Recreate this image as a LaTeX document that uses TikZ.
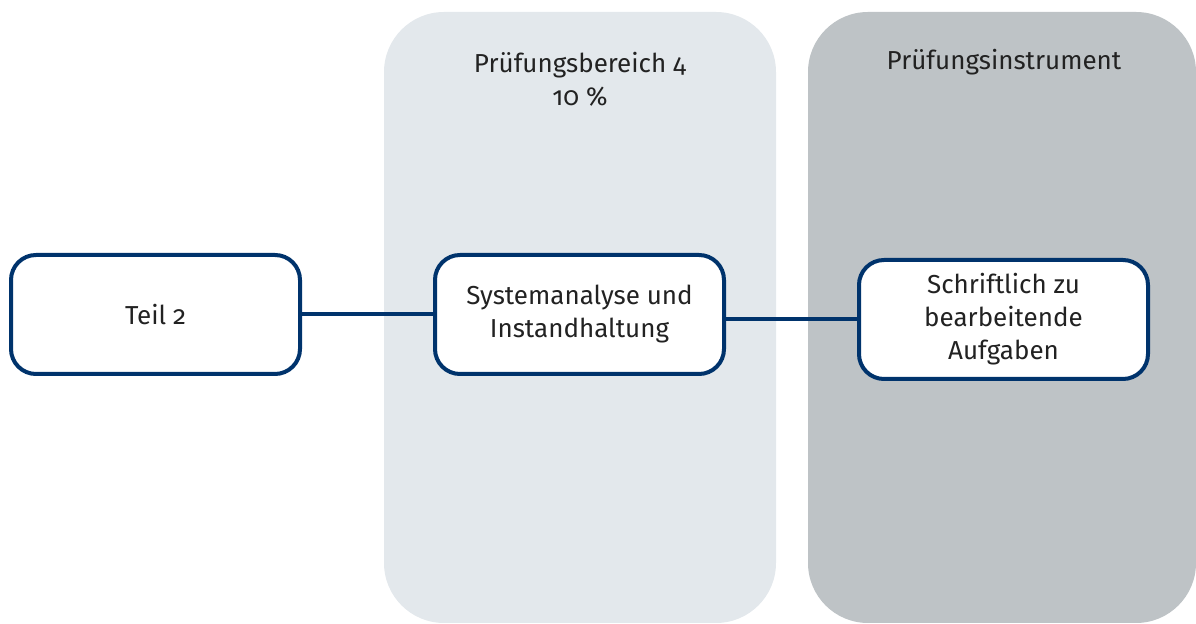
\documentclass[tikz,border=0pt]{standalone}
\usepackage{fontspec}
\setmainfont[Numbers=OldStyle]{Fira Sans}
\usetikzlibrary{positioning}

\definecolor{navy}{HTML}{00336C}
\definecolor{panellight}{HTML}{E3E8EC}
\definecolor{paneldark}{HTML}{BEC3C6}
\definecolor{textgray}{HTML}{222222}

\begin{document}
\begin{tikzpicture}[x=0.5pt, y=-0.5pt,
		every node/.style={font=\fontsize{13}{16.5}\selectfont, text=textgray},
		panel/.style={rounded corners=30pt, inner sep=0pt},
		stepbox/.style={draw=navy, line width=2pt, fill=white, rounded corners=12.5pt,
			minimum width=144.5pt, minimum height=59.5pt, align=center, inner sep=0pt},
		link/.style={draw=navy, line width=2pt}]
		\useasboundingbox (0,0) rectangle (1196,624);
		% background columns
		\fill[panellight, rounded corners=30pt] (384,12) rectangle (776,623);
		\fill[paneldark, rounded corners=30pt] (808,12) rectangle (1196,623);
		\node[align=center] (bereich) at (580,79) {Prüfungsbereich 4\\10 \%};
		\node (instrument) at (1004,62) {Prüfungsinstrument};
		% the three boxes
		\node[stepbox] (teil) at (155.5,314.5) {Teil 2};
		\node[stepbox] (system) at (579.5,314.5) {Systemanalyse und\\Instandhaltung};
		\node[stepbox] (aufgaben) at (1003.5,319.5) {Schriftlich zu\\bearbeitende\\Aufgaben};
		\draw[link] (teil) -- (system);
		\draw[link] (aufgaben.west -| system.east) -- (aufgaben.west);
\end{tikzpicture}
\end{document}
